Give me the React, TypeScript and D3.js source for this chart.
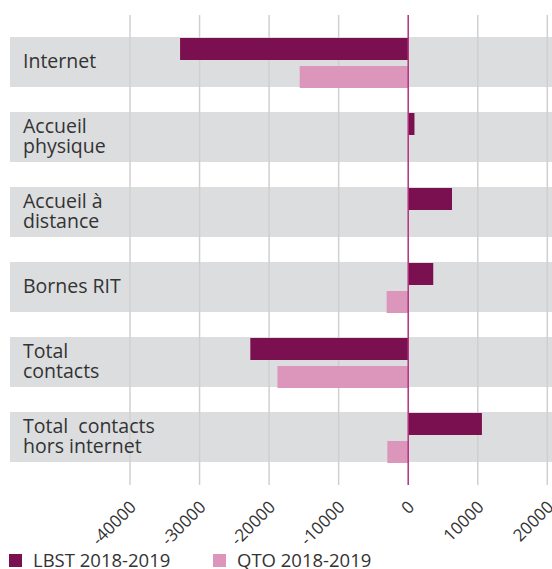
import { useEffect, useRef } from 'react';
import * as d3 from 'd3';

var CATEGORIES = ['Internet', 'Accueil physique', 'Accueil à distance', 'Bornes RIT', 'Total contacts', 'Total contacts hors internet'];
var LABEL_LINES = [['Internet'], ['Accueil', 'physique'], ['Accueil à', 'distance'], ['Bornes RIT'], ['Total', 'contacts'], ['Total  contacts', 'hors internet']];
var LBST = [-32800, 900, 6300, 3600, -22700, 10600];
var QTO = [-15600, 0, 0, -3100, -18800, -3000];
var TICKS = [-40000, -30000, -20000, -10000, 0, 10000, 20000];
var SERIES = ['LBST 2018-2019', 'QTO 2018-2019'];
var COLORS = ['#7a1050', '#dd96bb'];

export default function App() {
  var svgRef = useRef(null);

  useEffect(function () {
    var svg = d3.select(svgRef.current);
    svg.selectAll('*').remove();

    var font = '"Open Sans", "DejaVu Sans", sans-serif';
    var x = d3.scaleLinear().domain([-40000, 20000]).range([130, 547.3]);
    var y = d3.scaleBand().domain(CATEGORIES).range([37, 462]).paddingInner(1 / 3).paddingOuter(0);
    var bh = y.bandwidth();

    // bands
    svg.append('g').selectAll('rect').data(CATEGORIES).enter().append('rect')
      .attr('x', 10).attr('y', function (d) { return y(d); })
      .attr('width', 542).attr('height', bh)
      .attr('fill', '#dcdddf');

    // grid (over the bands, under the bars)
    svg.append('g').selectAll('line').data(TICKS.filter(function (t) { return t !== 0; })).enter().append('line')
      .attr('x1', function (d) { return x(d); }).attr('x2', function (d) { return x(d); })
      .attr('y1', 15).attr('y2', 485)
      .attr('stroke', '#d0d0d0').attr('stroke-width', 1.5);

    // bars
    var barH = bh * 0.44;
    var bars = svg.append('g');
    CATEGORIES.forEach(function (c, i) {
      [LBST[i], QTO[i]].forEach(function (v, j) {
        if (v === 0) return;
        bars.append('rect')
          .attr('x', x(Math.min(0, v)))
          .attr('y', y(c) + (j === 0 ? 1 : bh - barH + 1))
          .attr('width', Math.abs(x(v) - x(0)))
          .attr('height', barH)
          .attr('fill', COLORS[j]);
      });
    });

    svg.append('line')
      .attr('x1', x(0)).attr('x2', x(0)).attr('y1', 15).attr('y2', 485)
      .attr('stroke', '#b5307e').attr('stroke-width', 1.5);

    // category labels
    CATEGORIES.forEach(function (c, i) {
      var lines = LABEL_LINES[i];
      var cy = y(c) + bh / 2;
      var lh = 20.5;
      var t = svg.append('text')
        .attr('x', 23)
        .attr('font-family', font).attr('font-size', 19.5).attr('fill', '#333')
        .attr('xml:space', 'preserve');
      lines.forEach(function (l, k) {
        t.append('tspan').attr('x', 23)
          .attr('y', cy + (k - (lines.length - 1) / 2) * lh + 6)
          .text(l);
      });
    });

    // tick labels
    svg.append('g').selectAll('text').data(TICKS).enter().append('text')
      .attr('transform', function (d) { return 'translate(' + (x(d) + 3) + ',504) rotate(-45)'; })
      .attr('text-anchor', 'end')
      .attr('dy', '0.35em')
      .attr('font-family', font).attr('font-size', 17).attr('fill', '#333')
      .text(function (d) { return String(d); });

    // legend
    var lx = [9, 213];
    SERIES.forEach(function (s, i) {
      svg.append('rect').attr('x', lx[i]).attr('y', 554).attr('width', 13).attr('height', 13).attr('fill', COLORS[i]);
      svg.append('text').attr('x', lx[i] + 24).attr('y', 567)
        .attr('font-family', font).attr('font-size', 18.5).attr('fill', '#333')
        .text(s);
    });
  }, []);

  return (
    <svg ref={svgRef} width={552} height={569} style={{ position: 'absolute', left: 0, top: 0, background: '#fff' }} />
  );
}
